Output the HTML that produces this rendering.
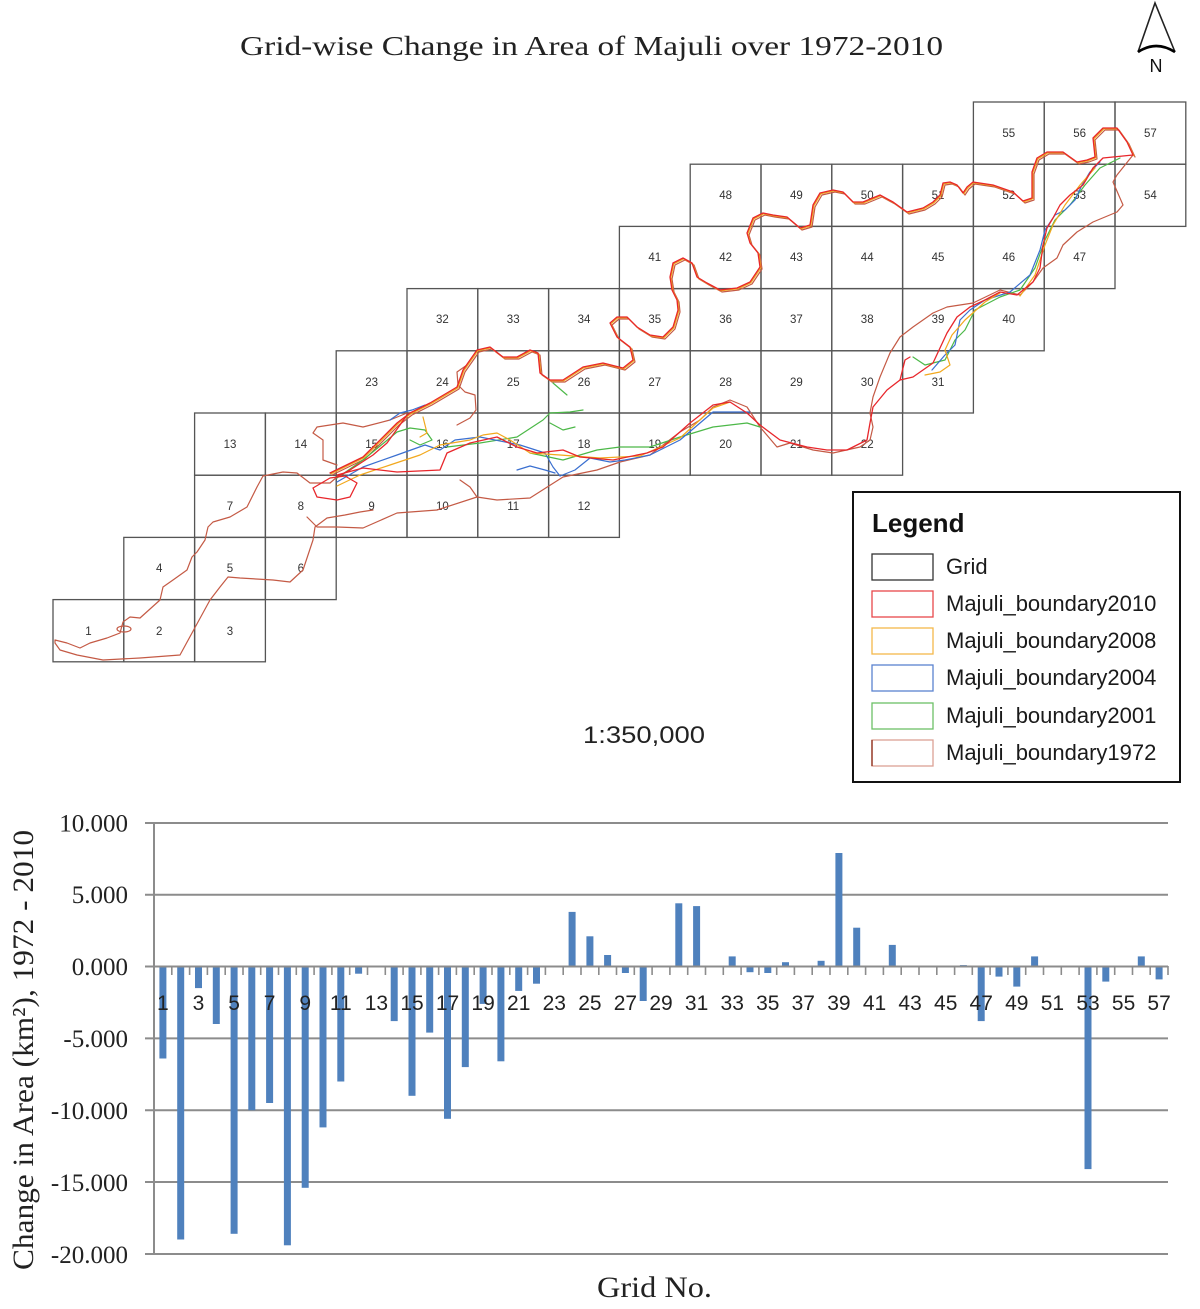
<!DOCTYPE html>
<html>
<head>
<meta charset="utf-8">
<style>
html,body{margin:0;padding:0;background:#fff;}
svg{display:block;}
</style>
</head>
<body>
<svg xmlns="http://www.w3.org/2000/svg" width="1200" height="1309" viewBox="0 0 1200 1309">
<rect width="1200" height="1309" fill="#fff"/>

<!-- Title -->
<text x="240" y="55" font-family="Liberation Serif, serif" font-size="27" fill="#222" textLength="703" lengthAdjust="spacingAndGlyphs">Grid-wise Change in Area of Majuli over 1972-2010</text>

<!-- North arrow -->
<path d="M1138,52 L1155,3 L1175,52" fill="none" stroke="#222" stroke-width="1.6"/>
<path d="M1138,52 Q1156,40 1175,52" fill="none" stroke="#000" stroke-width="2.6"/>
<text x="1156" y="72" text-anchor="middle" font-family="Liberation Sans, sans-serif" font-size="18" fill="#111">N</text>

<!-- Grid cells -->
<g fill="none" stroke="#555" stroke-width="1.3">
<!-- row0 -->
<rect x="973.4" y="102" width="70.8" height="62.2"/><rect x="1044.2" y="102" width="70.8" height="62.2"/><rect x="1115" y="102" width="70.8" height="62.2"/>
<!-- row1 -->
<rect x="690.2" y="164.2" width="70.8" height="62.2"/><rect x="761" y="164.2" width="70.8" height="62.2"/><rect x="831.8" y="164.2" width="70.8" height="62.2"/><rect x="902.6" y="164.2" width="70.8" height="62.2"/><rect x="973.4" y="164.2" width="70.8" height="62.2"/><rect x="1044.2" y="164.2" width="70.8" height="62.2"/><rect x="1115" y="164.2" width="70.8" height="62.2"/>
<!-- row2 -->
<rect x="619.4" y="226.4" width="70.8" height="62.2"/><rect x="690.2" y="226.4" width="70.8" height="62.2"/><rect x="761" y="226.4" width="70.8" height="62.2"/><rect x="831.8" y="226.4" width="70.8" height="62.2"/><rect x="902.6" y="226.4" width="70.8" height="62.2"/><rect x="973.4" y="226.4" width="70.8" height="62.2"/><rect x="1044.2" y="226.4" width="70.8" height="62.2"/>
<!-- row3 -->
<rect x="407" y="288.6" width="70.8" height="62.2"/><rect x="477.8" y="288.6" width="70.8" height="62.2"/><rect x="548.6" y="288.6" width="70.8" height="62.2"/><rect x="619.4" y="288.6" width="70.8" height="62.2"/><rect x="690.2" y="288.6" width="70.8" height="62.2"/><rect x="761" y="288.6" width="70.8" height="62.2"/><rect x="831.8" y="288.6" width="70.8" height="62.2"/><rect x="902.6" y="288.6" width="70.8" height="62.2"/><rect x="973.4" y="288.6" width="70.8" height="62.2"/>
<!-- row4 -->
<rect x="336.2" y="350.8" width="70.8" height="62.2"/><rect x="407" y="350.8" width="70.8" height="62.2"/><rect x="477.8" y="350.8" width="70.8" height="62.2"/><rect x="548.6" y="350.8" width="70.8" height="62.2"/><rect x="619.4" y="350.8" width="70.8" height="62.2"/><rect x="690.2" y="350.8" width="70.8" height="62.2"/><rect x="761" y="350.8" width="70.8" height="62.2"/><rect x="831.8" y="350.8" width="70.8" height="62.2"/><rect x="902.6" y="350.8" width="70.8" height="62.2"/>
<!-- row5 -->
<rect x="194.6" y="413" width="70.8" height="62.2"/><rect x="265.4" y="413" width="70.8" height="62.2"/><rect x="336.2" y="413" width="70.8" height="62.2"/><rect x="407" y="413" width="70.8" height="62.2"/><rect x="477.8" y="413" width="70.8" height="62.2"/><rect x="548.6" y="413" width="70.8" height="62.2"/><rect x="619.4" y="413" width="70.8" height="62.2"/><rect x="690.2" y="413" width="70.8" height="62.2"/><rect x="761" y="413" width="70.8" height="62.2"/><rect x="831.8" y="413" width="70.8" height="62.2"/>
<!-- row6 -->
<rect x="194.6" y="475.2" width="70.8" height="62.2"/><rect x="265.4" y="475.2" width="70.8" height="62.2"/><rect x="336.2" y="475.2" width="70.8" height="62.2"/><rect x="407" y="475.2" width="70.8" height="62.2"/><rect x="477.8" y="475.2" width="70.8" height="62.2"/><rect x="548.6" y="475.2" width="70.8" height="62.2"/>
<!-- row7 -->
<rect x="123.8" y="537.4" width="70.8" height="62.2"/><rect x="194.6" y="537.4" width="70.8" height="62.2"/><rect x="265.4" y="537.4" width="70.8" height="62.2"/>
<!-- row8 -->
<rect x="53" y="599.6" width="70.8" height="62.2"/><rect x="123.8" y="599.6" width="70.8" height="62.2"/><rect x="194.6" y="599.6" width="70.8" height="62.2"/>
</g>

<!-- Cell numbers -->
<g font-family="Liberation Sans, sans-serif" font-size="11.5" fill="#333" text-anchor="middle">
<text x="1008.8" y="137">55</text><text x="1079.6" y="137">56</text><text x="1150.4" y="137">57</text>
<text x="725.6" y="199">48</text><text x="796.4" y="199">49</text><text x="867.2" y="199">50</text><text x="938" y="199">51</text><text x="1008.8" y="199">52</text><text x="1079.6" y="199">53</text><text x="1150.4" y="199">54</text>
<text x="654.8" y="261">41</text><text x="725.6" y="261">42</text><text x="796.4" y="261">43</text><text x="867.2" y="261">44</text><text x="938" y="261">45</text><text x="1008.8" y="261">46</text><text x="1079.6" y="261">47</text>
<text x="442.4" y="323">32</text><text x="513.2" y="323">33</text><text x="584" y="323">34</text><text x="654.8" y="323">35</text><text x="725.6" y="323">36</text><text x="796.4" y="323">37</text><text x="867.2" y="323">38</text><text x="938" y="323">39</text><text x="1008.8" y="323">40</text>
<text x="371.6" y="386">23</text><text x="442.4" y="386">24</text><text x="513.2" y="386">25</text><text x="584" y="386">26</text><text x="654.8" y="386">27</text><text x="725.6" y="386">28</text><text x="796.4" y="386">29</text><text x="867.2" y="386">30</text><text x="938" y="386">31</text>
<text x="230" y="448">13</text><text x="300.8" y="448">14</text><text x="371.6" y="448">15</text><text x="442.4" y="448">16</text><text x="513.2" y="448">17</text><text x="584" y="448">18</text><text x="654.8" y="448">19</text><text x="725.6" y="448">20</text><text x="796.4" y="448">21</text><text x="867.2" y="448">22</text>
<text x="230" y="510">7</text><text x="300.8" y="510">8</text><text x="371.6" y="510">9</text><text x="442.4" y="510">10</text><text x="513.2" y="510">11</text><text x="584" y="510">12</text>
<text x="159.2" y="572">4</text><text x="230" y="572">5</text><text x="300.8" y="572">6</text>
<text x="88.4" y="635">1</text><text x="159.2" y="635">2</text><text x="230" y="635">3</text>
</g>

<!-- Boundaries -->
<g fill="none" stroke-linejoin="round" stroke-linecap="round">
<!-- 1972 -->
<g stroke="#c45a45" stroke-width="1.2">
<polyline points="407,413 390,420 363,427 343,423 317,427 313,433 323,440 323,460 337,465"/>
<polyline points="337,477 330,483 310,483 297,473 283,472 263,476 257,487 247,507 230,517 213,522 208,527 205,540 197,552 192,557 187,570 173,580 163,587 160,600 140,618 130,617 123,622 120,633 107,638 90,643 80,648 67,643 55,640 55,643 60,650 77,655 103,660 140,658 180,655 192,633 210,600 220,587 228,577 240,578 273,580 290,582 303,570 313,540 315,527 327,518 345,515 360,512 373,510"/>
<ellipse cx="124" cy="629" rx="7" ry="3"/>
<polyline points="307,517 317,527 337,527 363,528 397,513 437,510 477,497 497,500 530,498 563,477 597,470 620,462 650,455 680,432 700,420 713,407 730,400 747,407 760,427 777,447 790,443 813,450 833,453 860,447 870,440 873,427 870,413 873,397 880,377 890,353 900,337 913,327 933,313 947,307 973,303 1000,290 1020,295 1033,282 1043,268 1057,258 1063,245 1077,232 1093,222 1117,212 1123,205 1113,182 1117,175 1133,155"/>
<polyline points="460,480 470,487 477,497"/>
<polyline points="467,365 457,372 458,385 465,392 475,395 476,410 470,418 457,425"/>
<polyline transform="translate(2,2)" points="330,473 363,457 397,423 410,413 430,403 457,387 463,370 477,350 490,347 503,357 517,357 530,350 538,353 540,373 550,380 563,380 583,367 603,363 623,368 633,360 630,347 617,337 610,323 617,317 627,317 637,327 650,335 663,337 673,327 678,310 677,300 672,290 670,277 673,263 683,258 692,263 697,277 707,283 720,290 737,288 750,282 760,267 758,253 750,243 747,233 753,218 763,213 773,215 787,217 800,228 810,225 813,205 820,193 833,190 843,192 853,202 863,202 880,195 893,202 907,212 923,208 933,202 940,195 943,183 950,182 957,185 963,193 967,187 973,182 993,185 1013,192 1023,201 1032,198 1032,172 1037,158 1047,152 1063,152 1077,162 1087,160 1095,157 1093,138 1103,128 1117,128 1127,142 1133,155"/>
</g>
<!-- 2001 green -->
<g stroke="#4cb848" stroke-width="1.2">
<polyline points="337,478 363,460 385,442 397,432 410,428 425,430 432,440 420,445 410,440"/>
<polyline points="447,447 480,443 517,437 543,420 550,413 570,412 583,410"/>
<polyline points="550,423 563,430 575,427"/>
<polyline points="530,453 563,460 597,450 620,447 650,447 680,437 713,427 747,423 760,427"/>
<polyline points="553,383 567,395"/>
<polyline points="913,357 925,365 945,360 955,340 965,330 975,310 1000,297 1020,290 1035,268 1045,240 1055,220 1070,205 1085,185 1100,168 1120,158"/>
</g>
<!-- 2004 blue -->
<g stroke="#3a6fd0" stroke-width="1.2">
<polyline points="337,482 363,467 397,455 425,445 440,450 455,440 480,437 520,445 545,453 553,467 560,476 575,470 590,458 610,462 625,460 650,455 680,440 713,412 750,412"/>
<polyline points="390,420 400,413 412,410 425,405"/>
<polyline points="932,370 945,355 955,345 960,320 970,310 985,300 1010,292 1030,275 1040,250 1045,230 1055,215 1065,210 1075,200 1082,185 1090,172 1100,162"/>
<polyline points="517,470 530,466 545,470 555,473"/>
</g>
<!-- 2008 orange -->
<g stroke="#f2a81d" stroke-width="1.2">
<polyline points="337,486 360,475 390,465 420,455 440,445 470,440 483,435 497,433 510,440 530,453 560,455 600,458 640,456 680,438 713,408 730,402"/>
<polyline points="423,417 427,433 420,437"/>
<polyline points="925,375 940,372 950,365 945,350 952,335 965,320 985,302 1000,293"/>
<polyline points="1020,296 1035,275 1045,245 1053,225 1065,205 1080,185 1095,168"/>
<polyline transform="translate(0.8,0.8)" points="330,473 363,457 397,423 410,413 430,403 457,387 463,370 477,350 490,347 503,357 517,357 530,350 538,353 540,373 550,380 563,380 583,367 603,363 623,368 633,360 630,347 617,337 610,323 617,317 627,317 637,327 650,335 663,337 673,327 678,310 677,300 672,290 670,277 673,263 683,258 692,263 697,277 707,283 720,290 737,288 750,282 760,267 758,253 750,243 747,233 753,218 763,213 773,215 787,217 800,228 810,225 813,205 820,193 833,190 843,192 853,202 863,202 880,195 893,202 907,212 923,208 933,202 940,195 943,183 950,182 957,185 963,193 967,187 973,182 993,185 1013,192 1023,201 1032,198 1032,172 1037,158 1047,152 1063,152 1077,162 1087,160 1095,157 1093,138 1103,128 1117,128 1127,142 1133,155"/>
</g>
<!-- 2010 red -->
<g stroke="#e8262b" stroke-width="1.3">
<polyline points="330,473 363,457 397,423 410,413 430,403 457,387 463,370 477,350 490,347 503,357 517,357 530,350 538,353 540,373 550,380 563,380 583,367 603,363 623,368 633,360 630,347 617,337 610,323 617,317 627,317 637,327 650,335 663,337 673,327 678,310 677,300 672,290 670,277 673,263 683,258 692,263 697,277 707,283 720,290 737,288 750,282 760,267 758,253 750,243 747,233 753,218 763,213 773,215 787,217 800,228 810,225 813,205 820,193 833,190 843,192 853,202 863,202 880,195 893,202 907,212 923,208 933,202 940,195 943,183 950,182 957,185 963,193 967,187 973,182 993,185 1013,192 1023,201 1032,198 1032,172 1037,158 1047,152 1063,152 1077,162 1087,160 1095,157 1093,138 1103,128 1117,128 1127,142 1133,155"/>
<polyline points="1133,155 1103,158 1093,168 1083,185 1070,195 1060,205 1053,218 1047,228 1043,245 1040,268 1033,282 1017,295 1000,292 985,300 970,307 957,317 947,333 933,363 913,377 900,380 887,390 873,407 870,423 867,440 847,450 827,450 807,447 780,440 760,425 747,413 730,402 713,405 690,423 663,447 647,453 613,460 580,457 563,450 537,453 517,447 497,437 470,443 447,453 440,470 397,472 363,468 337,475"/>
<polyline points="337,477 350,470 373,455 387,443 400,425 407,415"/>
<polyline points="313,488 317,497 337,500 350,497 357,483 345,476 330,478 313,488"/>
<polyline points="900,380 905,360 910,357"/>
</g>
</g>

<!-- Legend -->
<rect x="853" y="492" width="327" height="290" fill="#fff" stroke="#111" stroke-width="2"/>
<text x="872" y="532" font-family="Liberation Sans, sans-serif" font-size="26" font-weight="bold" fill="#111">Legend</text>
<g fill="none" stroke-width="1.3">
<rect x="872" y="554" width="61" height="26" stroke="#333"/>
<rect x="872" y="591" width="61" height="26" stroke="#e8474a"/>
<rect x="872" y="628" width="61" height="26" stroke="#f4b84a"/>
<rect x="872" y="665" width="61" height="26" stroke="#5b82cf"/>
<rect x="872" y="703" width="61" height="26" stroke="#6cc067"/>
<rect x="872" y="740" width="61" height="26" stroke="#dba195"/>
<line x1="872" y1="740" x2="872" y2="766" stroke="#8b2a16"/>
</g>
<g font-family="Liberation Sans, sans-serif" font-size="22" fill="#1a1a1a">
<text x="946" y="574">Grid</text>
<text x="946" y="611">Majuli_boundary2010</text>
<text x="946" y="648">Majuli_boundary2008</text>
<text x="946" y="685">Majuli_boundary2004</text>
<text x="946" y="723">Majuli_boundary2001</text>
<text x="946" y="760">Majuli_boundary1972</text>
</g>

<!-- Scale -->
<text x="583" y="743" font-family="Liberation Sans, sans-serif" font-size="24" fill="#222" textLength="122" lengthAdjust="spacingAndGlyphs">1:350,000</text>

<!-- ===== Bar chart ===== -->
<g stroke="#8c8c8c" stroke-width="2">
<line x1="145" y1="823" x2="1168" y2="823"/>
<line x1="145" y1="894.7" x2="1168" y2="894.7"/>
<line x1="145" y1="1038.4" x2="1168" y2="1038.4"/>
<line x1="145" y1="1110.2" x2="1168" y2="1110.2"/>
<line x1="145" y1="1182" x2="1168" y2="1182"/>
<line x1="145" y1="1254" x2="1168" y2="1254"/>
<line x1="154" y1="823" x2="154" y2="1254"/>
</g>

<!-- bars -->
<g fill="#4f81bd">
<rect x="159.4" y="966.5" width="7" height="92"/>
<rect x="177.2" y="966.5" width="7" height="273"/>
<rect x="195.0" y="966.5" width="7" height="21.6"/>
<rect x="212.8" y="966.5" width="7" height="57.5"/>
<rect x="230.6" y="966.5" width="7" height="267.3"/>
<rect x="248.3" y="966.5" width="7" height="143.7"/>
<rect x="266.1" y="966.5" width="7" height="136.5"/>
<rect x="283.9" y="966.5" width="7" height="278.8"/>
<rect x="301.7" y="966.5" width="7" height="221.3"/>
<rect x="319.5" y="966.5" width="7" height="160.9"/>
<rect x="337.3" y="966.5" width="7" height="115"/>
<rect x="355.1" y="966.5" width="7" height="7.2"/>
<rect x="390.7" y="966.5" width="7" height="54.6"/>
<rect x="408.5" y="966.5" width="7" height="129.3"/>
<rect x="426.2" y="966.5" width="7" height="66.1"/>
<rect x="444.0" y="966.5" width="7" height="152.3"/>
<rect x="461.8" y="966.5" width="7" height="100.6"/>
<rect x="479.6" y="966.5" width="7" height="37.4"/>
<rect x="497.4" y="966.5" width="7" height="94.8"/>
<rect x="515.2" y="966.5" width="7" height="24.4"/>
<rect x="533.0" y="966.5" width="7" height="17.2"/>
<rect x="568.6" y="911.9" width="7" height="54.6"/>
<rect x="586.4" y="936.3" width="7" height="30.2"/>
<rect x="604.1" y="955" width="7" height="11.5"/>
<rect x="621.9" y="966.5" width="7" height="6.5"/>
<rect x="639.7" y="966.5" width="7" height="34.5"/>
<rect x="675.3" y="903.3" width="7" height="63.2"/>
<rect x="693.1" y="906.1" width="7" height="60.4"/>
<rect x="728.7" y="956.4" width="7" height="10.1"/>
<rect x="746.5" y="966.5" width="7" height="5.7"/>
<rect x="764.3" y="966.5" width="7" height="6.5"/>
<rect x="782.0" y="962.2" width="7" height="4.3"/>
<rect x="817.6" y="960.8" width="7" height="5.7"/>
<rect x="835.4" y="853" width="7" height="113.5"/>
<rect x="853.2" y="927.7" width="7" height="38.8"/>
<rect x="871.0" y="965.8" width="7" height="0.7"/>
<rect x="888.8" y="944.9" width="7" height="21.6"/>
<rect x="959.9" y="965.1" width="7" height="1.4"/>
<rect x="977.7" y="966.5" width="7" height="54.6"/>
<rect x="995.5" y="966.5" width="7" height="10.1"/>
<rect x="1013.3" y="966.5" width="7" height="20.1"/>
<rect x="1031.1" y="956.4" width="7" height="10.1"/>
<rect x="1084.5" y="966.5" width="7" height="202.6"/>
<rect x="1102.3" y="966.5" width="7" height="15.1"/>
<rect x="1137.8" y="956.4" width="7" height="10.1"/>
<rect x="1155.6" y="966.5" width="7" height="12.9"/>
</g>

<!-- zero axis and ticks -->
<line x1="145" y1="966.5" x2="1168" y2="966.5" stroke="#8c8c8c" stroke-width="2"/>
<path stroke="#8c8c8c" stroke-width="1.6" fill="none" d="M154,966v9 M171.8,966v9 M189.6,966v9 M207.4,966v9 M225.2,966v9 M243,966v9 M260.7,966v9 M278.5,966v9 M296.3,966v9 M314.1,966v9 M331.9,966v9 M349.7,966v9 M367.5,966v9 M385.3,966v9 M403.1,966v9 M420.9,966v9 M438.6,966v9 M456.4,966v9 M474.2,966v9 M492,966v9 M509.8,966v9 M527.6,966v9 M545.4,966v9 M563.2,966v9 M581,966v9 M598.8,966v9 M616.5,966v9 M634.3,966v9 M652.1,966v9 M669.9,966v9 M687.7,966v9 M705.5,966v9 M723.3,966v9 M741.1,966v9 M758.9,966v9 M776.7,966v9 M794.4,966v9 M812.2,966v9 M830,966v9 M847.8,966v9 M865.6,966v9 M883.4,966v9 M901.2,966v9 M919,966v9 M936.8,966v9 M954.6,966v9 M972.3,966v9 M990.1,966v9 M1007.9,966v9 M1025.7,966v9 M1043.5,966v9 M1061.3,966v9 M1079.1,966v9 M1096.9,966v9 M1114.7,966v9 M1132.5,966v9 M1150.2,966v9 M1168,966v9"/>

<!-- x tick labels -->
<g font-family="Liberation Sans, sans-serif" font-size="21" fill="#222" text-anchor="middle">
<text x="162.9" y="1010">1</text><text x="198.5" y="1010">3</text><text x="234.1" y="1010">5</text><text x="269.6" y="1010">7</text><text x="305.2" y="1010">9</text><text x="340.8" y="1010">11</text><text x="376.4" y="1010">13</text><text x="412" y="1010">15</text><text x="447.5" y="1010">17</text><text x="483.1" y="1010">19</text><text x="518.7" y="1010">21</text><text x="554.3" y="1010">23</text><text x="589.9" y="1010">25</text><text x="625.4" y="1010">27</text><text x="661" y="1010">29</text><text x="696.6" y="1010">31</text><text x="732.2" y="1010">33</text><text x="767.8" y="1010">35</text><text x="803.3" y="1010">37</text><text x="838.9" y="1010">39</text><text x="874.5" y="1010">41</text><text x="910.1" y="1010">43</text><text x="945.7" y="1010">45</text><text x="981.2" y="1010">47</text><text x="1016.8" y="1010">49</text><text x="1052.4" y="1010">51</text><text x="1088" y="1010">53</text><text x="1123.6" y="1010">55</text><text x="1159.1" y="1010">57</text>
</g>

<!-- y tick labels -->
<g font-family="Liberation Serif, serif" font-size="25" fill="#222" text-anchor="end">
<text x="128" y="831.5">10.000</text>
<text x="128" y="903">5.000</text>
<text x="128" y="975">0.000</text>
<text x="128" y="1047">-5.000</text>
<text x="128" y="1119">-10.000</text>
<text x="128" y="1191">-15.000</text>
<text x="128" y="1263">-20.000</text>
</g>

<!-- axis titles -->
<text transform="translate(33,1050) rotate(-90)" text-anchor="middle" font-family="Liberation Serif, serif" font-size="30" fill="#222" textLength="440" lengthAdjust="spacingAndGlyphs">Change in Area (km²), 1972 - 2010</text>
<text x="597" y="1297" font-family="Liberation Serif, serif" font-size="30" fill="#222" textLength="115" lengthAdjust="spacingAndGlyphs">Grid No.</text>

</svg>
</body>
</html>
